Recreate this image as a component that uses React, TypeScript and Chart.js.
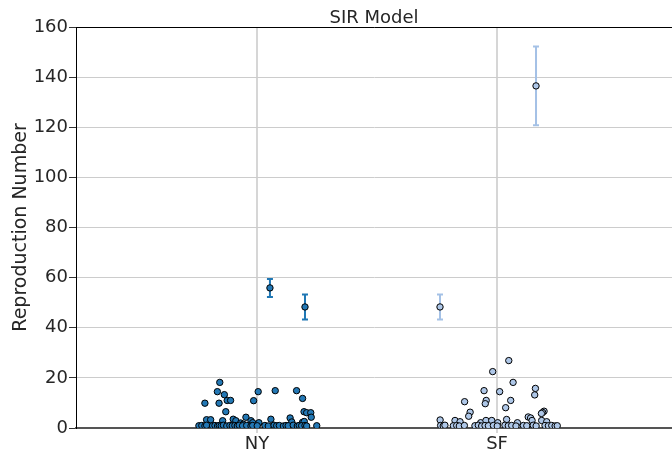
import React, { useEffect, useRef } from "react";
import { Chart, registerables } from "chart.js";

Chart.register(...registerables);

const categories = ["NY", "SF"];
const yTickValues = [0, 20, 40, 60, 80, 100, 120, 140, 160];

// jittered strip positions (x in category units) and values
const nyJitter = [
  -0.155, -0.165, -0.136, -0.217, -0.158, -0.124, -0.11, -0.13, 0.005, -0.014,
  0.076, 0.165, 0.19, 0.196, 0.207, 0.224, 0.226, 0.138, 0.058, -0.046,
  -0.21, -0.193, -0.143, -0.099, -0.088, -0.025, -0.018, 0.008, -0.068, -0.057,
  0.145, 0.19, 0.197,
  -0.242, -0.23, -0.217, -0.21, -0.185, -0.175, -0.164, -0.157, -0.149, -0.14,
  -0.126, -0.113, -0.103, -0.092, -0.082, -0.074, -0.06, -0.043, -0.025, -0.018,
  0.001, 0.033, 0.047, 0.071, 0.082, 0.093, 0.11, 0.121, 0.13, 0.151,
  0.168, 0.176, 0.186, 0.2, 0.207, 0.249,
];
const nyValues = [
  18.2, 14.5, 13.3, 9.9, 9.9, 11.0, 11.0, 6.5, 14.5, 10.9,
  14.9, 14.9, 11.8, 6.5, 6.1, 6.1, 4.3, 4.0, 3.5, 4.3,
  3.3, 3.3, 2.9, 3.5, 2.9, 2.9, 2.1, 2.1, 2.0, 1.5,
  2.4, 2.3, 2.6,
  0.9, 1.0, 0.8, 1.1, 0.9, 1.0, 0.8, 1.0, 0.9, 1.1,
  0.8, 1.0, 0.9, 1.0, 0.8, 1.1, 0.9, 1.0, 0.8, 1.0,
  0.9, 1.0, 0.8, 1.1, 0.9, 1.0, 0.8, 1.0, 0.9, 1.1,
  0.8, 1.0, 0.9, 1.0, 0.8, 0.9,
];
const sfJitter = [
  1.049, 0.982, 1.067, 1.16, 1.157, 0.946, 1.011, 0.865, 0.955, 0.951,
  1.057, 1.036, 0.888, 0.882, 1.196, 1.19, 1.185, 1.13, 1.14, 0.763,
  0.825, 0.846, 0.932, 0.954, 0.978, 1.003, 1.04, 1.085, 1.186, 1.207,
  1.146,
  0.765, 0.776, 0.783, 0.818, 0.832, 0.843, 0.864, 0.908, 0.922, 0.936,
  0.95, 0.964, 0.985, 1.001, 1.033, 1.047, 1.061, 1.079, 1.11, 1.124,
  1.151, 1.163, 1.2, 1.214, 1.228, 1.242, 1.251,
];
const sfValues = [
  26.9, 22.5, 18.2, 15.8, 13.2, 14.9, 14.5, 10.5, 11.0, 9.7,
  11.0, 8.1, 6.3, 4.7, 6.7, 6.2, 5.8, 4.4, 4.0, 3.2,
  3.0, 2.5, 2.1, 3.0, 3.0, 2.1, 3.4, 2.1, 3.0, 2.5,
  3.0,
  1.0, 0.8, 1.1, 0.9, 1.0, 0.8, 1.0, 0.9, 1.1, 0.8,
  1.0, 0.9, 1.0, 0.8, 1.1, 0.9, 1.0, 0.8, 1.0, 0.9,
  1.1, 0.8, 1.0, 0.9, 1.0, 0.8, 0.9,
];

// estimates with error bars
const nyErrX = [0.054, 0.2];
const nyErrY = [55.9, 48.3];
const nyErr = [3.6, 5.0];
const sfErrX = [0.7625, 1.1625];
const sfErrY = [48.3, 136.5];
const sfErr = [5.0, 15.7];

const NY_COLOR = "#2378b5";
const SF_COLOR = "#aec7e8";
const FONT = "'DejaVu Sans', sans-serif";

const errorBarPlugin = {
  id: "errorBars",
  beforeDatasetsDraw(chart: any) {
    const ctx = chart.ctx;
    const xs = chart.scales.x;
    const ys = chart.scales.y;
    const groups = [
      { x: nyErrX, y: nyErrY, e: nyErr, color: "#1f77b4" },
      { x: sfErrX, y: sfErrY, e: sfErr, color: "#a4c1e6" },
    ];
    ctx.save();
    for (const g of groups) {
      ctx.strokeStyle = g.color;
      ctx.lineWidth = 2;
      for (let i = 0; i < g.x.length; i++) {
        const px = xs.getPixelForValue(g.x[i]);
        const top = ys.getPixelForValue(g.y[i] + g.e[i]);
        const bot = ys.getPixelForValue(g.y[i] - g.e[i]);
        ctx.beginPath();
        ctx.moveTo(px, top);
        ctx.lineTo(px, bot);
        ctx.moveTo(px - 3, top);
        ctx.lineTo(px + 3, top);
        ctx.moveTo(px - 3, bot);
        ctx.lineTo(px + 3, bot);
        ctx.stroke();
      }
    }
    ctx.restore();
  },
};

const zeroPadH = (s: any, h: number) => {
  s.height = h;
  s.paddingLeft = 0;
  s.paddingRight = 0;
};

export default function App() {
  const ref = useRef<HTMLCanvasElement | null>(null);
  useEffect(() => {
    if (!ref.current) return;
    const pts = (xs: number[], ys: number[]) => xs.map((x, i) => ({ x, y: ys[i] }));
    const chart = new Chart(ref.current, {
      type: "scatter",
      data: {
        datasets: [
          {
            label: "NY",
            data: pts(nyJitter, nyValues),
            backgroundColor: NY_COLOR,
            borderColor: "#000",
            borderWidth: 1,
            pointRadius: 3.2,
          },
          {
            label: "SF",
            data: pts(sfJitter, sfValues),
            backgroundColor: SF_COLOR,
            borderColor: "#000",
            borderWidth: 1,
            pointRadius: 3.2,
          },
          {
            label: "NY estimate",
            data: pts(nyErrX, nyErrY),
            backgroundColor: NY_COLOR,
            borderColor: "#000",
            borderWidth: 1,
            pointRadius: 3.2,
          },
          {
            label: "SF estimate",
            data: pts(sfErrX, sfErrY),
            backgroundColor: SF_COLOR,
            borderColor: "#000",
            borderWidth: 1,
            pointRadius: 3.2,
          },
        ],
      },
      options: {
        animation: false,
        responsive: false,
        maintainAspectRatio: false,
        devicePixelRatio: 1,
        layout: { padding: 0, autoPadding: false },
        plugins: {
          legend: { display: false },
          tooltip: { enabled: false },
          title: {
            display: true,
            text: "SIR Model",
            fullSize: false,
            color: "#262626",
            font: { family: FONT, size: 18, weight: "normal", lineHeight: 1 },
            padding: { top: 9, bottom: 0 },
          },
        },
        scales: {
          x: {
            type: "linear",
            min: -0.754,
            max: 1.729,
            afterBuildTicks: (s: any) => {
              s.ticks = categories.map((_, i) => ({ value: i }));
            },
            afterFit: (s: any) => zeroPadH(s, 29),
            ticks: {
              callback: (v: any) => categories[v as number] ?? "",
              color: "#262626",
              font: { family: FONT, size: 18 },
              padding: 1,
              maxRotation: 0,
            },
            grid: { color: "#d6d6d6", lineWidth: 2, tickLength: 5, tickColor: "#d6d6d6" },
            border: { color: "#555", width: 2 },
          },
          x2: {
            type: "linear",
            position: "top",
            min: -0.754,
            max: 1.729,
            afterBuildTicks: (s: any) => {
              s.ticks = categories.map((_, i) => ({ value: i }));
            },
            afterFit: (s: any) => zeroPadH(s, 0),
            ticks: { display: false },
            grid: { drawOnChartArea: false, drawTicks: false },
            border: { color: "#000", width: 1 },
          },
          y: {
            min: 0,
            max: 160,
            afterBuildTicks: (s: any) => {
              s.ticks = yTickValues.map((v) => ({ value: v }));
            },
            afterFit: (s: any) => {
              s.width = 76;
              s.paddingTop = 0;
              s.paddingBottom = 0;
            },
            ticks: {
              color: "#262626",
              font: { family: FONT, size: 18 },
              padding: 1,
            },
            grid: { color: "#cccccc", lineWidth: 1, tickLength: 7, tickColor: "#333" },
            border: { color: "#000", width: 1 },
            title: {
              display: true,
              text: "Reproduction Number",
              color: "#262626",
              font: { family: FONT, size: 19 },
              padding: { top: 10, bottom: 0 },
            },
          },
        },
      },
      plugins: [errorBarPlugin],
    });
    return () => chart.destroy();
  }, []);
  return (
    <div style={{ position: "fixed", left: 0, top: 0, width: 672, height: 457 }}>
      <canvas ref={ref} width={672} height={457} style={{ display: "block" }} />
    </div>
  );
}
